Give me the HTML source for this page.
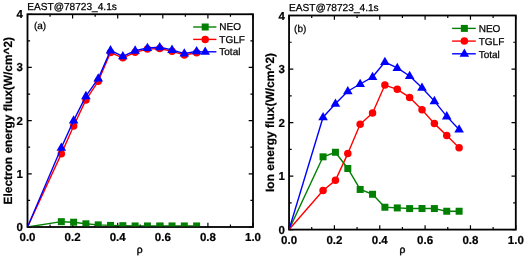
<!DOCTYPE html>
<html><head><meta charset="utf-8"><title>EAST@78723_4.1s energy flux</title>
<style>
html,body{margin:0;padding:0;background:#fff;}
svg{display:block;font-family:"Liberation Sans",sans-serif;fill:#000;text-rendering:geometricPrecision;will-change:transform;transform:translateZ(0);}
.r{stroke:#000;stroke-width:0.25px;}
.b{font-weight:bold;stroke:#000;stroke-width:0.2px;}
</style></head><body>
<svg width="525" height="256" viewBox="0 0 525 256">
<rect width="525" height="256" fill="#fff"/>
<g id="plot-a">
<rect x="27.5" y="14.25" width="225.5" height="212.75" fill="none" stroke="#000" stroke-width="1.8"/>
<path d="M27.5 227 v-4.3 M27.5 14.25 v4.3 M50.05 227 v-2.6 M50.05 14.25 v2.6 M72.6 227 v-4.3 M72.6 14.25 v4.3 M95.15 227 v-2.6 M95.15 14.25 v2.6 M117.7 227 v-4.3 M117.7 14.25 v4.3 M140.25 227 v-2.6 M140.25 14.25 v2.6 M162.8 227 v-4.3 M162.8 14.25 v4.3 M185.35 227 v-2.6 M185.35 14.25 v2.6 M207.9 227 v-4.3 M207.9 14.25 v4.3 M230.45 227 v-2.6 M230.45 14.25 v2.6 M253 227 v-4.3 M253 14.25 v4.3 M27.5 227 h4.3 M253 227 h-4.3 M27.5 200.41 h2.6 M253 200.41 h-2.6 M27.5 173.81 h4.3 M253 173.81 h-4.3 M27.5 147.22 h2.6 M253 147.22 h-2.6 M27.5 120.62 h4.3 M253 120.62 h-4.3 M27.5 94.03 h2.6 M253 94.03 h-2.6 M27.5 67.44 h4.3 M253 67.44 h-4.3 M27.5 40.84 h2.6 M253 40.84 h-2.6 M27.5 14.25 h4.3 M253 14.25 h-4.3" stroke="#000" stroke-width="1.2" fill="none"/>
<clipPath id="clipA"><rect x="27.5" y="14.25" width="225.5" height="212.05"/></clipPath>
<g clip-path="url(#clipA)">
<polyline fill="none" stroke="#038003" stroke-width="1.4" stroke-linejoin="round" points="27.5,227 61.32,221.68 73.62,222.21 85.92,223.81 98.22,224.87 110.52,225.4 122.83,225.67 135.12,225.94 147.43,225.94 159.72,225.94 172.03,225.94 184.32,225.94 196.62,225.94"/>
<rect x="57.82" y="218.18" width="7.0" height="7.0" fill="#038003"/><rect x="70.12" y="218.71" width="7.0" height="7.0" fill="#038003"/><rect x="82.42" y="220.31" width="7.0" height="7.0" fill="#038003"/><rect x="94.72" y="221.37" width="7.0" height="7.0" fill="#038003"/><rect x="107.02" y="221.9" width="7.0" height="7.0" fill="#038003"/><rect x="119.33" y="222.17" width="7.0" height="7.0" fill="#038003"/><rect x="131.62" y="222.44" width="7.0" height="7.0" fill="#038003"/><rect x="143.93" y="222.44" width="7.0" height="7.0" fill="#038003"/><rect x="156.22" y="222.44" width="7.0" height="7.0" fill="#038003"/><rect x="168.53" y="222.44" width="7.0" height="7.0" fill="#038003"/><rect x="180.82" y="222.44" width="7.0" height="7.0" fill="#038003"/><rect x="193.12" y="222.44" width="7.0" height="7.0" fill="#038003"/>
<polyline fill="none" stroke="#ff0000" stroke-width="1.4" stroke-linejoin="round" points="27.5,227 61.32,153.87 73.62,125.94 85.92,99.88 98.22,81.27 110.52,52.55 122.83,57.86 135.12,52.28 147.43,49.09 159.72,48.56 172.03,51.22 184.32,54.94 196.62,52.81"/>
<circle cx="61.32" cy="153.87" r="3.75" fill="#ff0000"/><circle cx="73.62" cy="125.94" r="3.75" fill="#ff0000"/><circle cx="85.92" cy="99.88" r="3.75" fill="#ff0000"/><circle cx="98.22" cy="81.27" r="3.75" fill="#ff0000"/><circle cx="110.52" cy="52.55" r="3.75" fill="#ff0000"/><circle cx="122.83" cy="57.86" r="3.75" fill="#ff0000"/><circle cx="135.12" cy="52.28" r="3.75" fill="#ff0000"/><circle cx="147.43" cy="49.09" r="3.75" fill="#ff0000"/><circle cx="159.72" cy="48.56" r="3.75" fill="#ff0000"/><circle cx="172.03" cy="51.22" r="3.75" fill="#ff0000"/><circle cx="184.32" cy="54.94" r="3.75" fill="#ff0000"/><circle cx="196.62" cy="52.81" r="3.75" fill="#ff0000"/>
<polyline fill="none" stroke="#0000ff" stroke-width="1.4" stroke-linejoin="round" points="27.5,227 61.32,147.75 73.62,120.62 85.92,96.16 98.22,78.61 110.52,50.42 122.83,56.27 135.12,50.68 147.43,48.02 159.72,47.23 172.03,49.89 184.32,53.61 196.62,51.22"/>
<polygon fill="#0000ff" points="61.32,142.43 56.52,150.74 66.12,150.74"/><polygon fill="#0000ff" points="73.62,115.3 68.83,123.62 78.42,123.62"/><polygon fill="#0000ff" points="85.92,90.84 81.12,99.15 90.72,99.15"/><polygon fill="#0000ff" points="98.22,73.29 93.42,81.6 103.02,81.6"/><polygon fill="#0000ff" points="110.52,45.1 105.72,53.41 115.32,53.41"/><polygon fill="#0000ff" points="122.83,50.95 118.03,59.26 127.62,59.26"/><polygon fill="#0000ff" points="135.12,45.36 130.32,53.68 139.93,53.68"/><polygon fill="#0000ff" points="147.43,42.7 142.62,51.02 152.23,51.02"/><polygon fill="#0000ff" points="159.72,41.91 154.92,50.22 164.53,50.22"/><polygon fill="#0000ff" points="172.03,44.56 167.22,52.88 176.83,52.88"/><polygon fill="#0000ff" points="184.32,48.29 179.52,56.6 189.12,56.6"/><polygon fill="#0000ff" points="196.62,45.89 191.82,54.21 201.43,54.21"/>
</g>
<text x="27.5" y="240.6" text-anchor="middle" class="b" font-size="11.5">0.0</text>
<text x="72.6" y="240.6" text-anchor="middle" class="b" font-size="11.5">0.2</text>
<text x="117.7" y="240.6" text-anchor="middle" class="b" font-size="11.5">0.4</text>
<text x="162.8" y="240.6" text-anchor="middle" class="b" font-size="11.5">0.6</text>
<text x="207.9" y="240.6" text-anchor="middle" class="b" font-size="11.5">0.8</text>
<text x="253" y="240.6" text-anchor="middle" class="b" font-size="11.5">1.0</text>
<text x="23" y="231" text-anchor="end" class="b" font-size="11.5">0</text>
<text x="23" y="177.81" text-anchor="end" class="b" font-size="11.5">1</text>
<text x="23" y="124.62" text-anchor="end" class="b" font-size="11.5">2</text>
<text x="23" y="71.44" text-anchor="end" class="b" font-size="11.5">3</text>
<text x="23" y="18.25" text-anchor="end" class="b" font-size="11.5">4</text>
<text class="r" style="stroke-width:0.4px" x="139.8" y="252.9" text-anchor="middle" font-size="10.3">ρ</text>
<text transform="translate(12.2 120.7) rotate(-90)" text-anchor="middle" class="b" font-size="11.9">Electron energy flux(W/cm^2)</text>
<text class="r" x="27.2" y="9.8" font-size="10.15">EAST@78723_4.1s</text>
<text class="r" x="33.9" y="29.1" font-size="10.0">(a)</text>
<path d="M193.2 27 h23.2" stroke="#038003" stroke-width="1.4"/>
<rect x="201.7" y="23.5" width="7.0" height="7.0" fill="#038003"/>
<text class="r" x="219.3" y="30.3" font-size="10.0">NEO</text>
<path d="M193.2 39.4 h23.2" stroke="#ff0000" stroke-width="1.4"/>
<circle cx="205.2" cy="39.4" r="3.75" fill="#ff0000"/>
<text class="r" x="219.3" y="42.7" font-size="10.0">TGLF</text>
<path d="M193.2 51.8 h23.2" stroke="#0000ff" stroke-width="1.4"/>
<polygon fill="#0000ff" points="205.2,46.48 200.4,54.79 210,54.79"/>
<text class="r" x="219.3" y="55.1" font-size="10.0">Total</text>
</g>
<g id="plot-b">
<rect x="289.05" y="15.5" width="226.75" height="214.1" fill="none" stroke="#000" stroke-width="1.8"/>
<path d="M289.05 229.6 v-4.3 M289.05 15.5 v4.3 M311.73 229.6 v-2.6 M311.73 15.5 v2.6 M334.4 229.6 v-4.3 M334.4 15.5 v4.3 M357.07 229.6 v-2.6 M357.07 15.5 v2.6 M379.75 229.6 v-4.3 M379.75 15.5 v4.3 M402.42 229.6 v-2.6 M402.42 15.5 v2.6 M425.1 229.6 v-4.3 M425.1 15.5 v4.3 M447.77 229.6 v-2.6 M447.77 15.5 v2.6 M470.45 229.6 v-4.3 M470.45 15.5 v4.3 M493.12 229.6 v-2.6 M493.12 15.5 v2.6 M515.8 229.6 v-4.3 M515.8 15.5 v4.3 M289.05 229.6 h4.3 M515.8 229.6 h-4.3 M289.05 202.84 h2.6 M515.8 202.84 h-2.6 M289.05 176.07 h4.3 M515.8 176.07 h-4.3 M289.05 149.31 h2.6 M515.8 149.31 h-2.6 M289.05 122.55 h4.3 M515.8 122.55 h-4.3 M289.05 95.79 h2.6 M515.8 95.79 h-2.6 M289.05 69.03 h4.3 M515.8 69.03 h-4.3 M289.05 42.26 h2.6 M515.8 42.26 h-2.6 M289.05 15.5 h4.3 M515.8 15.5 h-4.3" stroke="#000" stroke-width="1.2" fill="none"/>
<clipPath id="clipB"><rect x="289.05" y="15.5" width="226.75" height="213.4"/></clipPath>
<g clip-path="url(#clipB)">
<polyline fill="none" stroke="#038003" stroke-width="1.4" stroke-linejoin="round" points="289.05,229.6 323.06,156.81 335.43,152.26 347.8,168.47 360.17,189.46 372.54,194.27 384.9,207.23 397.27,207.92 409.64,208.56 422.01,208.51 434.38,208.56 446.74,211.24 459.11,211.24"/>
<rect x="319.56" y="153.31" width="7.0" height="7.0" fill="#038003"/><rect x="331.93" y="148.76" width="7.0" height="7.0" fill="#038003"/><rect x="344.3" y="164.97" width="7.0" height="7.0" fill="#038003"/><rect x="356.67" y="185.96" width="7.0" height="7.0" fill="#038003"/><rect x="369.04" y="190.77" width="7.0" height="7.0" fill="#038003"/><rect x="381.4" y="203.73" width="7.0" height="7.0" fill="#038003"/><rect x="393.77" y="204.42" width="7.0" height="7.0" fill="#038003"/><rect x="406.14" y="205.06" width="7.0" height="7.0" fill="#038003"/><rect x="418.51" y="205.01" width="7.0" height="7.0" fill="#038003"/><rect x="430.88" y="205.06" width="7.0" height="7.0" fill="#038003"/><rect x="443.24" y="207.74" width="7.0" height="7.0" fill="#038003"/><rect x="455.61" y="207.74" width="7.0" height="7.0" fill="#038003"/>
<polyline fill="none" stroke="#ff0000" stroke-width="1.4" stroke-linejoin="round" points="289.05,229.6 323.06,190.53 335.43,180.36 347.8,153.59 360.17,124.16 372.54,112.92 384.9,85.08 397.27,89.36 409.64,97.39 422.01,109.7 434.38,123.62 446.74,135.4 459.11,147.71"/>
<circle cx="323.06" cy="190.53" r="3.75" fill="#ff0000"/><circle cx="335.43" cy="180.36" r="3.75" fill="#ff0000"/><circle cx="347.8" cy="153.59" r="3.75" fill="#ff0000"/><circle cx="360.17" cy="124.16" r="3.75" fill="#ff0000"/><circle cx="372.54" cy="112.92" r="3.75" fill="#ff0000"/><circle cx="384.9" cy="85.08" r="3.75" fill="#ff0000"/><circle cx="397.27" cy="89.36" r="3.75" fill="#ff0000"/><circle cx="409.64" cy="97.39" r="3.75" fill="#ff0000"/><circle cx="422.01" cy="109.7" r="3.75" fill="#ff0000"/><circle cx="434.38" cy="123.62" r="3.75" fill="#ff0000"/><circle cx="446.74" cy="135.4" r="3.75" fill="#ff0000"/><circle cx="459.11" cy="147.71" r="3.75" fill="#ff0000"/>
<polyline fill="none" stroke="#0000ff" stroke-width="1.4" stroke-linejoin="round" points="289.05,229.6 323.06,117.2 335.43,103.82 347.8,91.24 360.17,84.01 372.54,77.05 384.9,62.07 397.27,67.95 409.64,75.98 422.01,87.76 434.38,101.14 446.74,116.39 459.11,129.51"/>
<polygon fill="#0000ff" points="323.06,111.88 318.26,120.19 327.86,120.19"/><polygon fill="#0000ff" points="335.43,98.5 330.63,106.81 340.23,106.81"/><polygon fill="#0000ff" points="347.8,85.92 343,94.23 352.6,94.23"/><polygon fill="#0000ff" points="360.17,78.69 355.37,87 364.97,87"/><polygon fill="#0000ff" points="372.54,71.73 367.74,80.05 377.34,80.05"/><polygon fill="#0000ff" points="384.9,56.75 380.1,65.06 389.7,65.06"/><polygon fill="#0000ff" points="397.27,62.63 392.47,70.95 402.07,70.95"/><polygon fill="#0000ff" points="409.64,70.66 404.84,78.98 414.44,78.98"/><polygon fill="#0000ff" points="422.01,82.44 417.21,90.75 426.81,90.75"/><polygon fill="#0000ff" points="434.38,95.82 429.58,104.13 439.18,104.13"/><polygon fill="#0000ff" points="446.74,111.07 441.94,119.39 451.54,119.39"/><polygon fill="#0000ff" points="459.11,124.19 454.31,132.5 463.91,132.5"/>
</g>
<text x="289.05" y="243.5" text-anchor="middle" class="b" font-size="11.5">0.0</text>
<text x="334.4" y="243.5" text-anchor="middle" class="b" font-size="11.5">0.2</text>
<text x="379.75" y="243.5" text-anchor="middle" class="b" font-size="11.5">0.4</text>
<text x="425.1" y="243.5" text-anchor="middle" class="b" font-size="11.5">0.6</text>
<text x="470.45" y="243.5" text-anchor="middle" class="b" font-size="11.5">0.8</text>
<text x="515.8" y="243.5" text-anchor="middle" class="b" font-size="11.5">1.0</text>
<text x="285" y="233.6" text-anchor="end" class="b" font-size="11.5">0</text>
<text x="285" y="180.07" text-anchor="end" class="b" font-size="11.5">1</text>
<text x="285" y="126.55" text-anchor="end" class="b" font-size="11.5">2</text>
<text x="285" y="73.03" text-anchor="end" class="b" font-size="11.5">3</text>
<text x="285" y="19.5" text-anchor="end" class="b" font-size="11.5">4</text>
<text class="r" style="stroke-width:0.4px" x="402.4" y="253.1" text-anchor="middle" font-size="10.3">ρ</text>
<text transform="translate(274.2 122.45) rotate(-90)" text-anchor="middle" class="b" font-size="12">Ion energy flux(W/cm^2)</text>
<text class="r" x="289" y="10.5" font-size="10.15">EAST@78723_4.1s</text>
<text class="r" x="294.1" y="31.9" font-size="10.0">(b)</text>
<path d="M452.1 28.4 h23.7" stroke="#038003" stroke-width="1.4"/>
<rect x="460.85" y="24.9" width="7.0" height="7.0" fill="#038003"/>
<text class="r" x="478.7" y="32.2" font-size="10.0">NEO</text>
<path d="M452.1 41.1 h23.7" stroke="#ff0000" stroke-width="1.4"/>
<circle cx="464.35" cy="41.1" r="3.75" fill="#ff0000"/>
<text class="r" x="478.7" y="44.9" font-size="10.0">TGLF</text>
<path d="M452.1 53.8 h23.7" stroke="#0000ff" stroke-width="1.4"/>
<polygon fill="#0000ff" points="464.35,48.48 459.55,56.79 469.15,56.79"/>
<text class="r" x="478.7" y="57.6" font-size="10.0">Total</text>
</g>
</svg>
</body></html>
